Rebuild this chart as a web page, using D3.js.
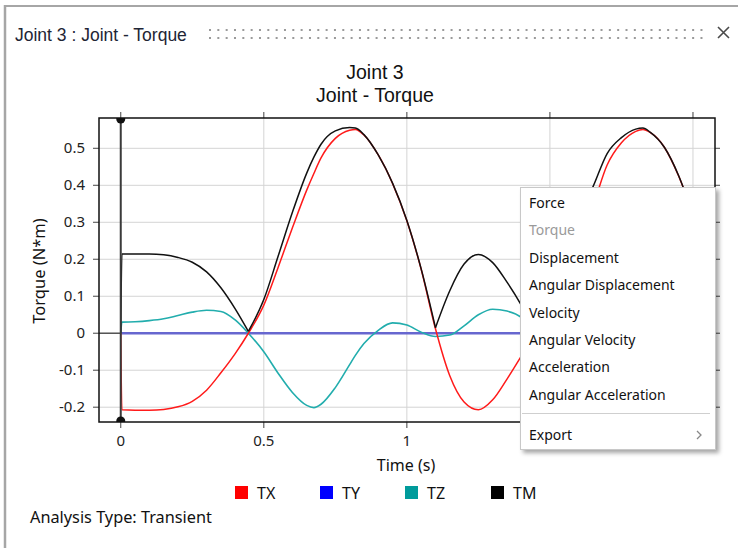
<!DOCTYPE html>
<html><head><meta charset="utf-8">
<script src="https://cdn.jsdelivr.net/npm/d3@7"></script>
<style>body{margin:0;background:#fff;} svg{display:block;}</style>
</head><body>
<svg id="c" width="738" height="548"></svg>
<script>
// ---- data ----
const time = [0, 0.004, 0.05, 0.10, 0.15, 0.20, 0.25, 0.30, 0.35, 0.40,
  0.446, 0.50, 0.55, 0.60, 0.65, 0.675, 0.70, 0.75, 0.80, 0.82, 0.85,
  0.90, 0.95, 1.00, 1.05, 1.10, 1.15, 1.20, 1.25, 1.30, 1.35,
  1.40, 1.45, 1.50, 1.55, 1.60, 1.65, 1.70, 1.75, 1.80, 1.825,
  1.85, 1.90, 1.95, 2.00];
const tx = [0, -0.207, -0.208, -0.208, -0.206, -0.199, -0.184, -0.154, -0.107, -0.055,
  0.0, 0.076, 0.178, 0.285, 0.387, 0.432, 0.474, 0.527, 0.549, 0.551, 0.536,
  0.482, 0.405, 0.304, 0.173, 0.012, -0.115, -0.186, -0.207, -0.180, -0.124,
  -0.062, 0.0, 0.085, 0.175, 0.265, 0.345, 0.455, 0.515, 0.546, 0.551,
  0.543, 0.503, 0.425, 0.320];
const ty = [0, 0, 0, 0, 0, 0, 0, 0, 0, 0,
  0, 0, 0, 0, 0, 0, 0, 0, 0, 0, 0,
  0, 0, 0, 0, 0, 0, 0, 0, 0, 0,
  0, 0, 0, 0, 0, 0, 0, 0, 0, 0,
  0, 0, 0, 0];
const tz = [0, 0.030, 0.031, 0.034, 0.039, 0.048, 0.057, 0.062, 0.059, 0.036,
  0.0, -0.050, -0.108, -0.160, -0.195, -0.201, -0.192, -0.147, -0.085, -0.060, -0.028,
  0.008, 0.028, 0.022, 0.003, -0.009, -0.005, 0.020, 0.050, 0.065, 0.060,
  0.043, 0.0, -0.060, -0.120, -0.170, -0.190, -0.170, -0.120, -0.070, -0.050,
  -0.030, 0.010, 0.030, 0.020];
const tm = [0, 0.214, 0.214, 0.214, 0.212, 0.205, 0.192, 0.166, 0.123, 0.066,
  0.005, 0.091, 0.208, 0.327, 0.433, 0.476, 0.511, 0.547, 0.556, 0.555, 0.537,
  0.482, 0.406, 0.305, 0.174, 0.015, 0.115, 0.187, 0.213, 0.191, 0.138,
  0.076, 0.005, 0.105, 0.213, 0.315, 0.395, 0.486, 0.529, 0.552, 0.555,
  0.544, 0.503, 0.426, 0.320];
const seriesNames = ["TX", "TY", "TZ", "TM"];
const xTicks = [0, 0.5, 1, 1.5, 2];
const xTickLabels = ["0", "0.5", "1", "1.5", "2"];
const yTicks = [-0.2, -0.1, 0, 0.1, 0.2, 0.3, 0.4, 0.5];
const yTickLabels = ["-0.2", "-0.1", "0", "0.1", "0.2", "0.3", "0.4", "0.5"];
const menuItems = ["Force", "Torque", "Displacement", "Angular Displacement", "Velocity",
  "Angular Velocity", "Acceleration", "Angular Acceleration"];

// ---- layout ----
const svg = d3.select("#c");
const P = {l: 99, r: 715, t: 118, b: 422};
const M = {x: 520.5, y: 187.5, w: 195, h: 262};
const x = d3.scaleLinear().domain([-0.076, 2.077]).range([P.l, P.r]);
const y = d3.scaleLinear().domain([-0.24, 0.582]).range([P.b, P.t]);
const FONT = "'Noto Sans', 'Open Sans', sans-serif";
const TFONT = "'Liberation Sans', Arial, sans-serif";

const defs = svg.append("defs");
defs.append("clipPath").attr("id", "plotclip").append("rect")
  .attr("x", P.l).attr("y", P.t).attr("width", P.r - P.l).attr("height", P.b - P.t);
const f = defs.append("filter").attr("id", "shadow").attr("x", "-10%").attr("y", "-10%").attr("width", "130%").attr("height", "130%");
f.append("feDropShadow").attr("dx", 3).attr("dy", 3).attr("stdDeviation", 2).attr("flood-color", "#000").attr("flood-opacity", 0.35);

// panel frame
svg.append("line").attr("x1", 4).attr("x2", 738).attr("y1", 6).attr("y2", 6).attr("stroke", "#a6a6a6").attr("stroke-width", 2);
svg.append("line").attr("x1", 5).attr("x2", 5).attr("y1", 5).attr("y2", 548).attr("stroke", "#a6a6a6").attr("stroke-width", 2.5);

// title bar
svg.append("text").attr("x", 15).attr("y", 41).attr("font-family", TFONT)
  .attr("font-size", 17.5).attr("fill", "#1e2535").text("Joint 3 : Joint - Torque");
const dots = svg.append("g").attr("fill", "#9a9a9a");
d3.range(210, 705, 8.33).forEach(dx => {
  [30, 38].forEach(dy => dots.append("rect").attr("x", dx - 1).attr("y", dy - 1).attr("width", 2).attr("height", 2));
});
svg.append("path").attr("d", "M718,27L729,38M729,27L718,38").attr("stroke", "#4a4a4a").attr("stroke-width", 1.6).attr("fill", "none");

// chart title
svg.append("text").attr("x", 375).attr("y", 79).attr("text-anchor", "middle").attr("font-family", TFONT)
  .attr("font-size", 19.5).attr("fill", "#111").text("Joint 3");
svg.append("text").attr("x", 375).attr("y", 101.5).attr("text-anchor", "middle").attr("font-family", TFONT)
  .attr("font-size", 19.5).attr("fill", "#111").text("Joint - Torque");

// grid + ticks
const grid = svg.append("g").attr("stroke", "#d4d4d4").attr("stroke-width", 1);
xTicks.forEach(t => grid.append("line").attr("x1", x(t)).attr("x2", x(t)).attr("y1", P.t - 6).attr("y2", P.b + 6));
yTicks.forEach(v => grid.append("line").attr("x1", P.l - 6).attr("x2", P.r + 5).attr("y1", y(v)).attr("y2", y(v)));
const tk = svg.append("g").attr("stroke", "#555").attr("stroke-width", 1);
xTicks.forEach(t => { tk.append("line").attr("x1", x(t)).attr("x2", x(t)).attr("y1", P.b).attr("y2", P.b + 6);
  tk.append("line").attr("x1", x(t)).attr("x2", x(t)).attr("y1", P.t - 6).attr("y2", P.t); });
yTicks.forEach(v => { tk.append("line").attr("x1", P.l - 6).attr("x2", P.l).attr("y1", y(v)).attr("y2", y(v));
  tk.append("line").attr("x1", P.r).attr("x2", P.r + 5).attr("y1", y(v)).attr("y2", y(v)); });

// x tick labels (those lying under the open context menu are hidden, as in the reference)
svg.append("g").selectAll("text").data(xTicks.filter(d => x(d) < M.x - 8)).join("text")
  .attr("x", d => x(d)).attr("y", 446).attr("text-anchor", "middle").attr("font-family", FONT)
  .attr("font-size", 15).attr("fill", "#222").text(d => xTickLabels[xTicks.indexOf(d)]);
svg.append("g").selectAll("text").data(yTicks).join("text")
  .attr("x", 85).attr("y", d => y(d) + 5).attr("text-anchor", "end").attr("font-family", FONT)
  .attr("font-size", 15).attr("fill", "#222").text((d, i) => yTickLabels[i]);

svg.append("text").attr("x", 406).attr("y", 471).attr("text-anchor", "middle").attr("font-family", FONT)
  .attr("font-size", 16).attr("fill", "#111").text("Time (s)");
svg.append("text").attr("transform", "translate(45,271) rotate(-90)").attr("text-anchor", "middle")
  .attr("font-family", FONT).attr("font-size", 16.5).attr("fill", "#111").text("Torque (N*m)");

// data lines
const plot = svg.append("g").attr("clip-path", "url(#plotclip)");
plot.append("line").attr("x1", P.l).attr("x2", P.r).attr("y1", y(0)).attr("y2", y(0)).attr("stroke", "#555").attr("stroke-width", 1.5);
const line = d3.line().x(d => x(d[0])).y(d => y(d[1])).curve(d3.curveMonotoneX);
const pts = arr => time.map((t, i) => [t, arr[i]]);
plot.append("path").attr("d", line(pts(ty))).attr("fill", "none").attr("stroke", "#6767cf").attr("stroke-width", 2.5);
plot.append("path").attr("d", line(pts(tz))).attr("fill", "none").attr("stroke", "#22adad").attr("stroke-width", 1.6);
plot.append("path").attr("d", line(pts(tx))).attr("fill", "none").attr("stroke", "#ff1a1a").attr("stroke-width", 1.5);
// TM split at its sharp minima
const tmPts = pts(tm);
let segs = [], cur = [];
tmPts.forEach((p, i) => {
  cur.push(p);
  if (i > 0 && i < tmPts.length - 1 && tm[i] < tm[i - 1] && tm[i] < tm[i + 1]) { segs.push(cur); cur = [p]; }
});
segs.push(cur);
segs.forEach(s => plot.append("path").attr("d", line(s)).attr("fill", "none").attr("stroke", "#111").attr("stroke-width", 1.5));

// time cursor
plot.append("line").attr("x1", x(0)).attr("x2", x(0)).attr("y1", P.t).attr("y2", P.b).attr("stroke", "#3a3a3a").attr("stroke-width", 2);
plot.append("circle").attr("cx", x(0)).attr("cy", P.t + 1).attr("r", 4.5).attr("fill", "#111");
plot.append("circle").attr("cx", x(0)).attr("cy", P.b - 1).attr("r", 4.5).attr("fill", "#111");

// plot border
svg.append("rect").attr("x", P.l).attr("y", P.t).attr("width", P.r - P.l).attr("height", P.b - P.t)
  .attr("fill", "none").attr("stroke", "#111").attr("stroke-width", 1.5);

// legend
const legColors = ["#ff0000", "#0000ff", "#009b9b", "#000000"];
const legX = [235, 320, 405, 491];
seriesNames.forEach((n, i) => {
  svg.append("rect").attr("x", legX[i]).attr("y", 486).attr("width", 13).attr("height", 13).attr("fill", legColors[i]);
  svg.append("text").attr("x", legX[i] + 22).attr("y", 499).attr("font-family", FONT).attr("font-size", 16)
    .attr("fill", "#111").text(n);
});
svg.append("text").attr("x", 30).attr("y", 523).attr("font-family", FONT).attr("font-size", 16.3)
  .attr("fill", "#111").text("Analysis Type: Transient");

// context menu
const menu = svg.append("g");
menu.append("rect").attr("x", M.x).attr("y", M.y).attr("width", M.w).attr("height", M.h)
  .attr("fill", "#fff").attr("stroke", "#c8c8c8").attr("filter", "url(#shadow)");
menuItems.forEach((m, i) => {
  menu.append("text").attr("x", 529).attr("y", 208 + i * 27.4).attr("font-family", FONT).attr("font-size", 14)
    .attr("fill", i === 1 ? "#9a9a9a" : "#111").text(m);
});
menu.append("line").attr("x1", 522).attr("x2", 710).attr("y1", 413.5).attr("y2", 413.5).attr("stroke", "#cfcfcf");
menu.append("text").attr("x", 529).attr("y", 440).attr("font-family", FONT).attr("font-size", 14).attr("fill", "#111").text("Export");
menu.append("path").attr("d", "M697,431L701,435L697,439").attr("fill", "none").attr("stroke", "#888").attr("stroke-width", 1.3);
</script>
</body></html>
